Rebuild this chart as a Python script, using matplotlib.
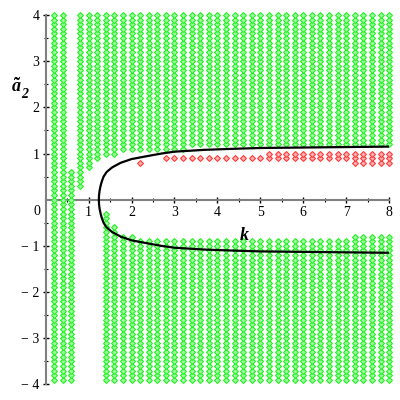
import matplotlib
matplotlib.use('Agg')
import matplotlib.pyplot as plt
import numpy as np

plt.rcParams['mathtext.fontset'] = 'custom'
plt.rcParams['mathtext.it'] = 'Liberation Serif:italic:bold'
plt.rcParams['mathtext.rm'] = 'Liberation Serif:bold'
plt.rcParams['mathtext.bf'] = 'Liberation Serif:bold'

# === data ===
k_cols = [0.2, 0.4, 0.6, 0.8, 1.0, 1.2, 1.4, 1.6, 1.8, 2.0,
          2.2, 2.4, 2.6, 2.8, 3.0, 3.2, 3.4, 3.6, 3.8, 4.0,
          4.2, 4.4, 4.6, 4.8, 5.0, 5.2, 5.4, 5.6, 5.8, 6.0,
          6.2, 6.4, 6.6, 6.8, 7.0, 7.2, 7.4, 7.6, 7.8, 8.0]
# lower end of the green band that reaches up to a2 = 4 (nan = no band)
green_up_lo = [-3.9, -3.9, np.nan, 0.3, 0.7, 0.9, 1.0, 1.0, 1.1, 1.1,
               1.1, 1.1, 1.1, 1.1, 1.1, 1.1, 1.2, 1.2, 1.2, 1.2,
               1.2, 1.2, 1.2, 1.2, 1.2, 1.2, 1.2, 1.2, 1.2, 1.2,
               1.2, 1.2, 1.2, 1.2, 1.2, 1.2, 1.2, 1.2, 1.2, 1.2]
# upper end of the green band that starts at a2 = -3.9 (nan = no band)
green_dn_hi = [np.nan, np.nan, 0.6, np.nan, np.nan, np.nan, -0.3, -0.6, -0.8, -0.8,
               -0.9, -0.9, -0.9, -0.9, -0.9, -0.9, -0.9, -0.9, -0.9, -0.9,
               -0.9, -0.9, -0.9, -0.9, -0.9, -0.9, -0.9, -0.9, -0.9, -0.9,
               -0.9, -0.9, -0.9, -0.9, -0.9, -0.8, -0.8, -0.8, -0.8, -0.8]
a2_top = 4.0
a2_bottom = -3.9

red_k = [2.2, 2.8, 3.0, 3.2, 3.4, 3.6, 3.8, 4.0, 4.2, 4.4, 4.6, 4.8, 5.0,
         5.2, 5.4, 5.6, 5.8, 6.0, 6.2, 6.4, 6.6, 6.8, 7.0,
         7.2, 7.4, 7.6, 7.8, 8.0]
red_lo = [0.8] + [0.9] * 12 + [0.9] * 10 + [0.8] * 5
red_hi = [0.8] + [0.9] * 12 + [1.0] * 10 + [1.0] * 5

# upper branch of the boundary curve (lower branch is its mirror)
curve_k = [1.24, 1.244, 1.258, 1.28, 1.31, 1.35, 1.42, 1.55, 1.75, 2.0,
           2.4, 2.7, 3.0, 3.7, 4.3, 5.0, 6.0, 7.0, 8.0]
curve_a2 = [0.0, 0.1, 0.2, 0.3, 0.4, 0.5, 0.6, 0.7, 0.8, 0.88,
            0.95, 1.0, 1.04, 1.08, 1.10, 1.12, 1.13, 1.14, 1.15]


def column_points(ks, los, his, step=0.1):
    xs, ys = [], []
    for k, lo, hi in zip(ks, los, his):
        if np.isnan(lo) or np.isnan(hi):
            continue
        n = int(round((hi - lo) / step)) + 1
        ys.extend(lo + step * np.arange(n))
        xs.extend([k] * n)
    return np.array(xs), np.array(ys)


gx1, gy1 = column_points(k_cols, green_up_lo, [a2_top] * len(k_cols))
gx2, gy2 = column_points(k_cols, [a2_bottom] * len(k_cols), green_dn_hi)
rx, ry = column_points(red_k, red_lo, red_hi)

fig = plt.figure(figsize=(4, 4), dpi=100)
ax = fig.add_axes([0.114, 0.039, 0.859, 0.9235])

mk = dict(marker='D', linestyle='none', markersize=3.0, markeredgewidth=0.8, clip_on=False)
ax.plot(np.r_[gx1, gx2], np.r_[gy1, gy2], color='#33ff33', markerfacecolor='#a0ffa0',
        markeredgecolor='#22f022', zorder=3, **mk)
ax.plot(rx, ry, color='#ff4444', markerfacecolor='#ffb0b0', markeredgecolor='#ff3a3a', zorder=3, **mk)

ck = np.array(curve_k)
ca = np.array(curve_a2)
ax.plot(np.r_[ck[::-1], ck], np.r_[ca[::-1], -ca], color='black', linewidth=1.6, zorder=4)

ax.set_xlim(0, 8)
ax.set_ylim(-4, 4)
for s in ['top', 'right']:
    ax.spines[s].set_visible(False)
ax.spines['left'].set_position('zero')
ax.spines['bottom'].set_position('zero')
for s in ['left', 'bottom']:
    ax.spines[s].set_color('#808080')
    ax.spines[s].set_linewidth(1.5)

ax.set_xticks([1, 2, 3, 4, 5, 6, 7, 8])
ax.set_yticks([-4, -3, -2, -1, 1, 2, 3, 4])
ax.set_xticks(np.arange(0.5, 8, 1), minor=True)
ax.set_yticks(np.arange(-3.5, 4, 1), minor=True)
ax.tick_params(which='major', direction='inout', length=5, width=1, color='black',
               labelsize=10, labelfontfamily='Liberation Serif', pad=2)
ax.tick_params(which='minor', direction='inout', length=3, width=0.8, color='black')
ax.set_xticklabels(['1', '2', '3', '4', '5', '6', '7', '8'])
ax.set_yticklabels(['\u2212 4', '\u2212 3', '\u2212 2', '\u2212 1', '1', '2', '3', '4'])
ax.text(-0.13, -0.12, '0', ha='right', va='top', fontsize=10, family='Liberation Serif')

ax.text(4.64, -0.76, r'$k$', ha='center', va='center', fontsize=13)
# y label: a with tilde, then a big subscript 2
ax.text(-0.68, 2.45, r'$\tilde{a}$', ha='center', va='center', fontsize=13)
ax.text(-0.48, 2.28, '2', ha='center', va='center', fontsize=10,
        family='Liberation Serif', fontweight='bold', fontstyle='italic')

plt.savefig('out.png', dpi=100)
